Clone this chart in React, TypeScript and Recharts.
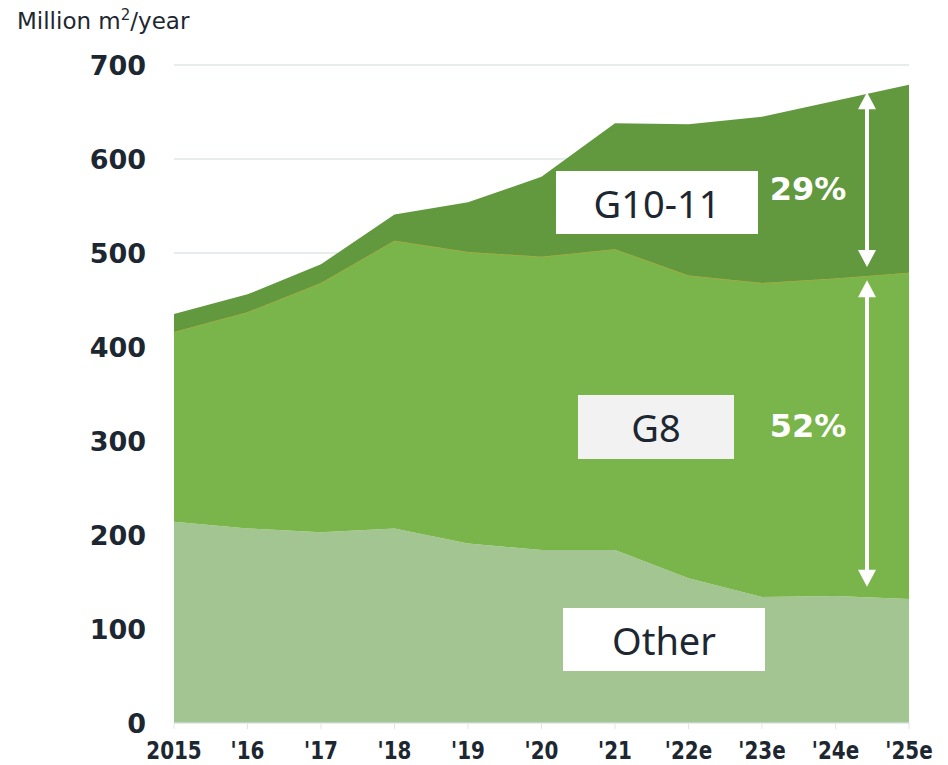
import React from 'react';
import { AreaChart, Area, XAxis, YAxis, CartesianGrid } from 'recharts';

const years = ['2015', "'16", "'17", "'18", "'19", "'20", "'21", "'22e", "'23e", "'24e", "'25e"];
const other = [214, 207, 203, 207, 191, 184, 184, 154, 134, 135, 132];
const g8 = [202, 230, 265, 306, 310, 312, 320, 322, 334, 338, 347];
const g1011 = [19, 19, 20, 28, 53, 85, 134, 161, 177, 189, 200];
const yTicks = [0, 100, 200, 300, 400, 500, 600, 700];

const data = years.map((year, i) => ({
  year,
  other: other[i],
  g8: g8[i],
  g1011: g1011[i]
}));

const W = 948;
const H = 765;
const PLOT_TOP = 65;
const PLOT_BOTTOM = 723;
const PLOT_LEFT = 174;
const PLOT_RIGHT = 909;
const Y_MAX = 700;

// value -> pixel, same mapping the chart uses
const yPx = (v: number) => PLOT_BOTTOM - (v / Y_MAX) * (PLOT_BOTTOM - PLOT_TOP);

const TEXT = '#1d2731';
const FONT = '"DejaVu Sans", Verdana, sans-serif';
const LABEL_FONT = '"Noto Sans", "Open Sans", sans-serif';

const XTick = (props: any) => {
  const { x, y, payload } = props;
  return (
    <text
      transform={`translate(${x},${y + 28}) scale(0.83,1)`}
      textAnchor="middle"
      fontFamily={FONT}
      fontWeight="bold"
      fontSize={24}
      fill={TEXT}
    >
      {payload.value}
    </text>
  );
};

const Arrow = ({ x, from, to }: { x: number; from: number; to: number }) => {
  const y1 = yPx(from);
  const y2 = yPx(to);
  const head = 17;
  const hw = 9;
  return (
    <g fill="#ffffff" stroke="none">
      <rect x={x - 2} y={y1 + head - 1} width={4} height={y2 - y1 - 2 * head + 2} />
      <polygon points={`${x},${y1} ${x - hw},${y1 + head} ${x + hw},${y1 + head}`} />
      <polygon points={`${x},${y2} ${x - hw},${y2 - head} ${x + hw},${y2 - head}`} />
    </g>
  );
};

const boxStyle = (left: number, top: number, w: number, h: number, bg: string): React.CSSProperties => ({
  position: 'absolute',
  left,
  top,
  width: w,
  height: h,
  background: bg,
  color: TEXT,
  fontFamily: LABEL_FONT,
  fontSize: 38,
  display: 'flex',
  alignItems: 'center',
  justifyContent: 'center',
  lineHeight: 1
});

const pctStyle = (top: number): React.CSSProperties => ({
  position: 'absolute',
  left: 758,
  width: 100,
  top,
  textAlign: 'center',
  color: '#ffffff',
  fontFamily: FONT,
  fontWeight: 'bold',
  fontSize: 32,
  lineHeight: 1
});

export default function App() {
  return (
    <div style={{ position: 'absolute', left: 0, top: 0, width: W, height: H, background: '#fff' }}>
      <AreaChart
        width={W}
        height={H}
        data={data}
        margin={{ top: PLOT_TOP, right: W - PLOT_RIGHT, bottom: 0, left: 0 }}
      >
        <CartesianGrid vertical={false} stroke="#dfe6ea" strokeWidth={1.5} />
        <XAxis
          dataKey="year"
          height={H - PLOT_BOTTOM}
          interval={0}
          axisLine={{ stroke: '#dfe6ea' }}
          tickLine={{ stroke: '#dfe6ea' }}
          tickSize={6}
          tickMargin={2}
          tick={<XTick />}
        />
        <YAxis
          width={PLOT_LEFT}
          domain={[0, Y_MAX]}
          ticks={yTicks}
          axisLine={false}
          tickLine={false}
          tickSize={0}
          tickMargin={28}
          tick={{ fontSize: 27, fontWeight: 'bold', fill: TEXT, fontFamily: FONT }}
        />
        <Area
          type="linear"
          dataKey="other"
          stackId="1"
          fill="#a3c592"
          fillOpacity={1}
          stroke="none"
          isAnimationActive={false}
        />
        <Area
          type="linear"
          dataKey="g8"
          stackId="1"
          fill="#7ab54b"
          fillOpacity={1}
          stroke="#c9a227"
          strokeWidth={0.8}
          isAnimationActive={false}
        />
        <Area
          type="linear"
          dataKey="g1011"
          stackId="1"
          fill="#62983e"
          fillOpacity={1}
          stroke="none"
          isAnimationActive={false}
        />
      </AreaChart>

      <div
        style={{
          position: 'absolute',
          left: 17,
          top: 8,
          fontFamily: FONT,
          fontSize: 23,
          color: TEXT,
          whiteSpace: 'nowrap'
        }}
      >
        Million m<sup style={{ fontSize: 15, verticalAlign: 'top', position: 'relative', top: -2 }}>2</sup>/year
      </div>

      <div style={boxStyle(556, 171, 202, 63, '#ffffff')}>G10-11</div>
      <div style={boxStyle(578, 395, 156, 64, '#f2f2f2')}>G8</div>
      <div style={boxStyle(563, 608, 202, 63, '#ffffff')}>Other</div>

      <div style={pctStyle(173)}>29%</div>
      <div style={pctStyle(410)}>52%</div>

      <svg
        width={W}
        height={H}
        style={{ position: 'absolute', left: 0, top: 0, pointerEvents: 'none' }}
      >
        <Arrow x={867} from={671} to={485} />
        <Arrow x={867} from={471} to={145} />
      </svg>
    </div>
  );
}
